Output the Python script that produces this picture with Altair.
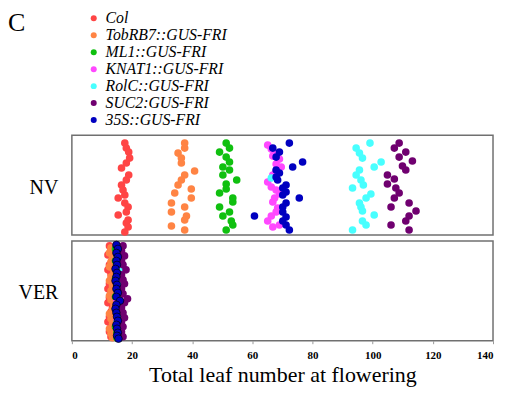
import altair as alt
import pandas as pd

series = ["Col", "TobRB7::GUS-FRI", "ML1::GUS-FRI", "KNAT1::GUS-FRI",
          "RolC::GUS-FRI", "SUC2:GUS-FRI", "35S::GUS-FRI"]
colors = ["#ff4545", "#ff8444", "#10c010", "#ff48ff", "#48ffff", "#700070", "#0000c0"]

# NV panel: leaf numbers and vertical strip position (0 = bottom, 100 = top)
nv_col_x = [17.6, 18.1, 18.9, 19.2, 18.1, 16.5, 18.9, 18.1, 16.5, 17.0, 17.6, 15.4, 17.6, 18.7, 18.1, 15.4, 18.7, 18.1, 18.7, 17.6]
nv_col_y = [92, 87, 83, 77, 72, 67, 60, 55, 50, 45, 40, 37, 32, 28, 23, 20, 15, 12, 8, 3]
nv_tob_x = [37.5, 37.5, 35.3, 36.4, 36.4, 40.8, 37.5, 36.4, 35.3, 39.7, 34.2, 39.7, 33.1, 37.5, 33.1, 38.1, 37.5, 33.1, 37.5]
nv_tob_y = [92, 87, 82, 77, 72, 64, 60, 55, 50, 46, 42, 37, 32, 28, 23, 19, 15, 9, 5]
nv_ml1_x = [51.3, 52.4, 49.1, 51.3, 52.4, 50.2, 52.4, 50.2, 54.8, 51.3, 51.3, 49.1, 53.5, 53.5, 49.1, 52.4, 50.2, 53.0, 53.5, 51.3]
nv_ml1_y = [92, 87, 83, 78, 73, 68, 65, 60, 55, 51, 46, 42, 37, 33, 28, 23, 19, 14, 10, 5]
nv_knat_x = [65.1, 66.3, 67.4, 66.8, 69.0, 67.9, 69.6, 67.9, 66.8, 65.1, 66.3, 67.9, 69.0, 67.4, 66.8, 68.4, 67.9, 66.3, 65.1, 66.8, 69.0]
nv_knat_y = [90, 86, 82, 79, 76, 71, 68, 64, 60, 53, 48, 45, 41, 37, 33, 27, 23, 19, 14, 8, 10]
nv_rolc_x = [94.5, 99.1, 95.6, 96.6, 102.8, 100.5, 95.6, 94.5, 96.1, 96.9, 93.3, 99.4, 97.8, 95.6, 96.1, 96.6, 100.5, 96.6, 97.8, 93.3, 66.3]
nv_rolc_y = [87, 92, 82, 77, 73, 68, 65, 60, 55, 50, 47, 41, 37, 32, 28, 24, 20, 14, 10, 5, 57]
nv_suc2_x = [108.8, 107.2, 111.0, 108.8, 113.2, 109.9, 111.0, 104.9, 107.2, 104.9, 107.7, 108.8, 107.2, 112.1, 106.1, 114.4, 112.1, 111.0, 106.1, 112.1]
nv_suc2_y = [92, 87, 83, 78, 74, 69, 65, 60, 56, 51, 47, 42, 37, 32, 28, 24, 19, 14, 10, 5]
nv_35s_x = [72.3, 66.8, 69.0, 67.9, 76.7, 73.4, 67.9, 69.0, 67.9, 68.4, 71.2, 70.1, 71.2, 70.1, 75.6, 71.2, 70.1, 70.1, 71.2, 70.1, 71.2, 72.3, 60.7]
nv_35s_y = [92, 87, 83, 78, 73, 68, 65, 62, 58, 55, 50, 47, 43, 40, 37, 32, 28, 23, 18, 14, 10, 5, 19]

# VER panel
ver_col_x = [12.5, 13.0, 12.0, 13.5, 12.5, 12.0, 13.0, 13.5, 12.5, 12.0, 13.0, 12.5, 12.0, 13.5, 13.0, 12.5, 12.0, 13.0, 12.5, 13.0]
ver_col_y = [95, 90, 86, 81, 76, 71, 67, 62, 57, 52, 48, 43, 38, 33, 29, 24, 19, 14, 9, 4]
ver_tob_x = [13.0, 12.5, 13.5, 13.0, 12.5, 14.0, 13.0, 12.5, 13.5, 13.0, 12.5, 13.0, 14.0, 13.5, 12.5, 13.0, 13.5, 12.5, 13.0, 13.5]
ver_tob_y = [93, 88, 84, 79, 74, 69, 64, 60, 55, 50, 45, 41, 36, 31, 27, 22, 17, 12, 7, 3]
ver_ml1_x = [14.5, 15.0, 14.5, 15.0, 15.5, 14.5, 15.0, 15.5, 14.5, 15.0, 14.5, 15.0, 15.5, 14.5, 15.0, 15.0]
ver_ml1_y = [92, 86, 80, 74, 68, 62, 56, 50, 44, 38, 32, 26, 20, 14, 8, 3]
ver_knat_x = [15.5, 16.0, 15.0, 16.5, 15.5, 15.0, 16.0, 15.5, 16.5, 15.0, 15.5, 16.0, 15.0, 16.5, 15.5, 16.0]
ver_knat_y = [94, 88, 82, 76, 70, 64, 58, 52, 46, 40, 34, 28, 22, 16, 10, 4]
ver_rolc_x = [15.5, 16.0, 15.0, 16.0, 15.5, 16.5, 15.0, 15.5, 16.0, 15.5, 16.5, 15.0, 15.5, 16.0]
ver_rolc_y = [91, 84, 77, 71, 64, 58, 51, 45, 38, 32, 25, 18, 12, 5]
ver_suc2_x = [17.0, 16.5, 17.5, 16.5, 17.0, 18.0, 16.5, 17.0, 17.5, 16.5, 17.0, 18.5, 17.5, 16.5, 17.0, 17.5, 16.5, 17.0, 16.5, 17.0]
ver_suc2_y = [95, 90, 85, 80, 76, 71, 66, 61, 57, 52, 47, 42, 38, 33, 28, 23, 19, 14, 9, 4]
ver_35s_x = [14.8, 15.3, 14.8, 15.3, 14.8, 15.0, 14.5, 15.0, 14.8, 14.5, 15.0, 14.8, 15.3, 14.8, 16.0, 14.8, 14.5, 14.8, 15.0, 15.3, 14.8, 15.0, 15.3, 15.0, 15.5]
ver_35s_y = [96, 92, 88, 84, 80, 76, 72, 68, 64, 60, 56, 52, 48, 44, 40, 36, 32, 28, 24, 20, 16, 12, 8, 5, 2]

nv_sets = [(nv_col_x, nv_col_y), (nv_tob_x, nv_tob_y), (nv_ml1_x, nv_ml1_y), (nv_knat_x, nv_knat_y),
           (nv_rolc_x, nv_rolc_y), (nv_suc2_x, nv_suc2_y), (nv_35s_x, nv_35s_y)]
ver_sets = [(ver_col_x, ver_col_y), (ver_tob_x, ver_tob_y), (ver_ml1_x, ver_ml1_y), (ver_knat_x, ver_knat_y),
            (ver_rolc_x, ver_rolc_y), (ver_suc2_x, ver_suc2_y), (ver_35s_x, ver_35s_y)]


def frame(sets):
    rows = []
    for name, (xs, ys) in zip(series, sets):
        for v, p in zip(xs, ys):
            rows.append({"g": name, "v": v, "p": p})
    return pd.DataFrame(rows)


df_nv = frame(nv_sets)
df_ver = frame(ver_sets)

FONT = "Liberation Serif"
color = alt.Color(
    "g:N",
    scale=alt.Scale(domain=series, range=colors),
    legend=alt.Legend(
        title="C", titleOrient="left", titleAnchor="start", titleBaseline="top",
        titleFont=FONT, titleFontSize=26, titleFontWeight="normal", titleColor="black",
        titlePadding=60,
        orient="none", legendX=-64, legendY=-125, direction="vertical",
        labelFont=FONT, labelFontStyle="italic", labelFontSize=15.8, labelColor="black",
        symbolType="circle", symbolSize=36, symbolStrokeWidth=0, rowPadding=0, labelOffset=4,
        labelLimit=300,
    ),
)


def yaxis(label):
    return alt.Y(
        "p:Q", scale=alt.Scale(domain=[0, 100]),
        axis=alt.Axis(title=label, labels=False, ticks=False, domain=False, grid=False,
                      titleAngle=0, titleAlign="right", titleBaseline="middle",
                      titleX=-14, titleY=52, titleFont=FONT, titleFontSize=20,
                      titleFontWeight="normal", titleColor="black"),
    )


xscale = alt.Scale(domain=[0, 140], nice=False)

nv = alt.Chart(df_nv).mark_circle(size=58, opacity=1).encode(
    x=alt.X("v:Q", scale=xscale, axis=None),
    y=yaxis("NV"),
    color=color,
).properties(width=422, height=100)

ver = alt.Chart(df_ver).mark_circle(size=58, opacity=1).encode(
    x=alt.X("v:Q", scale=xscale,
            axis=alt.Axis(values=list(range(0, 141, 20)), title="Total leaf number at flowering",
                          labelFont=FONT, labelFontWeight="bold", labelFontSize=11, labelColor="black",
                          titleFont=FONT, titleFontSize=22, titleFontWeight="normal", titleColor="black",
                          domain=False, grid=False, tickSize=3, tickColor="#999", labelPadding=6,
                          titlePadding=4)),
    y=yaxis("VER"),
    color=color,
    stroke=alt.condition("datum.g == '35S::GUS-FRI'", alt.value("#000000"), alt.value("transparent")),
    strokeWidth=alt.value(0.7),
).properties(width=422, height=100)

chart = alt.vconcat(nv, ver, spacing=2, background="white",
                    padding={"left": 0, "top": 2, "right": 4, "bottom": 0}
                    ).configure_view(stroke="#707070", strokeWidth=1.5)

chart.save("out.html", embed_options={"renderer": "svg", "actions": False})
